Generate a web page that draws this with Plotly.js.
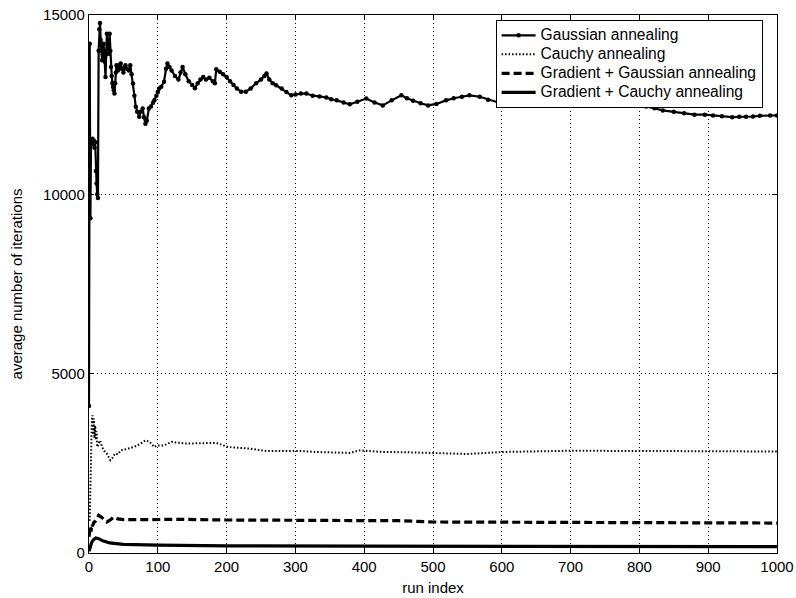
<!DOCTYPE html>
<html>
<head>
<meta charset="utf-8">
<script src="https://cdn.plot.ly/plotly-3.0.1.min.js"></script>
<style>html,body{margin:0;padding:0;background:#fff;}#chart{width:796px;height:598px;}</style>
</head>
<body>
<div id="chart"></div>
<script>
const seriesNames = ["Gaussian annealing", "Cauchy annealing", "Gradient + Gaussian annealing", "Gradient + Cauchy annealing"];

const gaussRun = [0,1,2,3,4,5,6,7,8,9,10,11,12,13,14,15,16,17,18,19,20,21,22,23,24,25,26,27,28,29,30,31,32,33,34,35,36,37,38,39,40,41,42,43,44,45,46,48,50,52,53,55,58,60,62,64,66,68,70,73,75,78,80,82,84,87,90,93,95,98,100,102,105,109,112,114,117,120,125,130,133,136,140,145,150,154,158,162,166,170,175,180,183,185,190,195,200,205,210,215,221,228,235,243,250,255,258,262,267,272,280,287,294,300,308,316,325,335,345,352,360,370,379,390,403,415,427,440,454,462,471,482,493,505,519,530,542,553,568,580,595,610,620,631,645,655,665,680,695,713,725,740,750,761,775,785,796,810,822,834,850,865,880,895,907,920,935,945,955,965,975,990,1000];
const gaussVal = [4100,14200,9330,11500,11450,11550,11400,11500,11300,11450,10650,10300,10000,9900,14000,14600,14780,14300,14000,13740,13900,14200,14000,13700,13270,13900,14480,14200,14100,13920,14480,14000,13550,13300,13100,12990,12900,12810,13100,13400,13600,13550,13450,13500,13600,13550,13650,13500,13400,13550,13600,13500,13450,13600,13350,13090,12750,12440,12300,12160,12300,12390,12150,11970,12050,12390,12450,12550,12620,12750,12850,12950,13000,13140,13500,13650,13550,13450,13300,13200,13400,13550,13350,13150,13050,12960,13100,13200,13270,13200,13250,13150,13100,13490,13420,13350,13270,13150,13050,12950,12860,12860,12950,13100,13200,13300,13370,13200,13100,13040,12950,12850,12760,12780,12810,12810,12750,12730,12700,12650,12620,12560,12510,12580,12670,12560,12480,12620,12760,12680,12610,12540,12480,12520,12620,12680,12720,12760,12720,12640,12560,12520,12500,12480,12530,12560,12580,12600,12620,12620,12580,12520,12500,12480,12500,12520,12530,12450,12400,12340,12300,12260,12220,12220,12200,12180,12150,12160,12160,12170,12190,12200,12200];

const cauchyRun = [1,2,3,4,5,6,7,8,9,10,11,12,14,16,19,22,26,29,31,34,38,42,46,55,65,75,82,88,95,99,109,120,141,160,185,202,234,258,306,330,379,393,427,460,500,549,602,665,700,800,900,1000];
const cauchyVal = [900,2200,3300,3600,3840,3300,3750,3200,3550,3150,3400,2955,3050,3140,2955,2850,2770,2650,2585,2650,2770,2750,2860,2900,2955,3050,3140,3100,2956,3000,3000,3100,3050,3060,3070,2956,2910,2845,2845,2817,2790,2860,2817,2810,2790,2760,2817,2845,2850,2845,2845,2830];

const gradGaussRun = [0,1,2,3,4,5,7,10,14,18,22,26,31,36,42,50,80,130,200,300,400,450,500,650,700,800,900,1000];
const gradGaussVal = [450,650,750,600,800,750,850,900,1050,1000,930,865,920,1000,950,930,930,940,920,910,910,900,865,860,840,840,840,835];

const gradCauchyRun = [0,2,4,7,10,14,20,30,50,100,200,400,600,800,1000];
const gradCauchyVal = [50,200,300,380,420,400,340,280,240,220,200,190,185,180,180];

const xTicks = [0,100,200,300,400,500,600,700,800,900,1000];
const yTicks = [0,5000,10000,15000];

const legName = s => '<span style="font-size:15.6px">' + s + '</span>';

const traces = [
  {x: gaussRun, y: gaussVal, name: legName(seriesNames[0]), type: 'scatter', mode: 'lines+markers',
   line: {color: '#000', width: 2.2}, marker: {color: '#000', size: 4.5}},
  {x: cauchyRun, y: cauchyVal, name: legName(seriesNames[1]), type: 'scatter', mode: 'lines',
   line: {color: '#000', width: 2, dash: '1.5px,2px'}},
  {x: gradGaussRun, y: gradGaussVal, name: legName(seriesNames[2]), type: 'scatter', mode: 'lines',
   line: {color: '#000', width: 3.2, dash: '8px,4px'}},
  {x: gradCauchyRun, y: gradCauchyVal, name: legName(seriesNames[3]), type: 'scatter', mode: 'lines',
   line: {color: '#000', width: 3.2}}
];

const font = {family: 'Liberation Sans, Arial, sans-serif', size: 15, color: '#000'};

const layout = {
  width: 796, height: 598,
  margin: {l: 89, r: 19, t: 15, b: 45},
  paper_bgcolor: '#fff', plot_bgcolor: '#fff',
  font: font,
  showlegend: true,
  legend: {x: 0.591, y: 0.991, xanchor: 'left', yanchor: 'top',
    bgcolor: '#fff', bordercolor: '#000', borderwidth: 1, itemwidth: 34,
    font: {family: font.family, size: 12, color: '#000'}, tracegroupgap: 0},
  xaxis: {range: [0, 1000], tickvals: xTicks, ticktext: xTicks.map(String),
    showgrid: true, gridcolor: '#000', griddash: '1px,3px', gridwidth: 1,
    zeroline: false, showline: true, linecolor: '#000', linewidth: 1.2, mirror: 'ticks',
    ticks: 'inside', ticklen: 5, tickcolor: '#000',
    title: {text: 'run index', font: font, standoff: 8}, tickfont: font},
  yaxis: {range: [0, 15000], tickvals: yTicks, ticktext: yTicks.map(String),
    showgrid: true, gridcolor: '#000', griddash: '1px,3px', gridwidth: 1,
    zeroline: false, showline: true, linecolor: '#000', linewidth: 1.2, mirror: 'ticks',
    ticks: 'inside', ticklen: 5, tickcolor: '#000',
    title: {text: 'average number of iterations', font: font, standoff: 16}, tickfont: font}
};

Plotly.newPlot('chart', traces, layout, {displayModeBar: false, staticPlot: true});
</script>
</body>
</html>
